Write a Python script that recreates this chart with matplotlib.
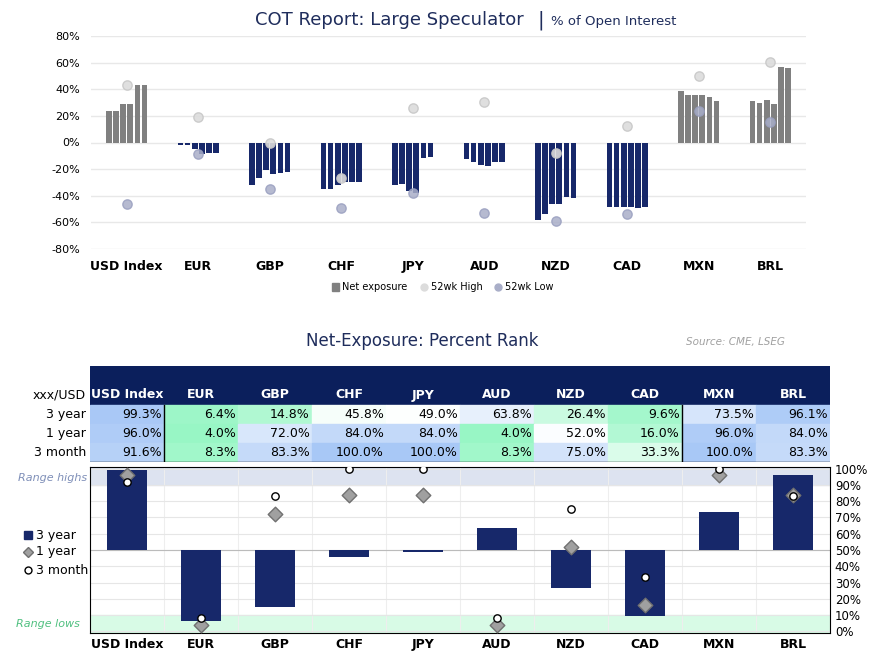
import numpy as np
import matplotlib.pyplot as plt
from matplotlib.colors import LinearSegmentedColormap

ccys = ['USD Index', 'EUR', 'GBP', 'CHF', 'JPY', 'AUD', 'NZD', 'CAD', 'MXN', 'BRL']
# net exposure, last 6 observations (% of OI)
net = [
    [24, 24, 29, 29, 43, 43],
    [-2, -2, -5, -9, -8, -8],
    [-32, -27, -21, -24, -23, -22],
    [-35, -35, -32, -30, -30, -29.5],
    [-32, -31, -36.5, -38, -11.5, -11],
    [-12.5, -15, -17, -18, -14.5, -15],
    [-58, -54, -46, -46, -41, -41.5],
    [-48.5, -48.5, -48.5, -48.5, -49, -48.5],
    [38.5, 36, 35.5, 35.5, 34, 31.5],
    [31, 30, 32, 29, 57, 56],
]
high52 = [43.5, 19, 0, -27, 26, 30.5, -8, 12.5, 50, 60.5]
low52 = [-46, -9, -35, -49.5, -38, -53, -59, -54, 24, 15.5]

rank3y = [99.3, 6.4, 14.8, 45.8, 49.0, 63.8, 26.4, 9.6, 73.5, 96.1]
rank1y = [96.0, 4.0, 72.0, 84.0, 84.0, 4.0, 52.0, 16.0, 96.0, 84.0]
rank3m = [91.6, 8.3, 83.3, 100.0, 100.0, 8.3, 75.0, 33.3, 100.0, 83.3]
row_names = ['3 year', '1 year', '3 month']

navy = '#17286a'
grey = '#808080'
W, H = 882, 669
fig = plt.figure(figsize=(W / 100, H / 100), dpi=100)
plt.rcParams['font.family'] = 'DejaVu Sans'

def box(l, t, r, b):
    return [l / W, 1 - b / H, (r - l) / W, (b - t) / H]

# ---------- top chart ----------
ax = fig.add_axes(box(91, 36, 806, 249))
x = np.arange(len(ccys))
for i in range(len(ccys)):
    for j, v in enumerate(net[i]):
        ax.bar(i - 0.25 + j * 0.1, v, width=0.08, color=navy if v < 0 else grey, zorder=3)
ax.scatter(x, high52, s=45, color='#dcdcdc', edgecolor='#c8c8c8', zorder=4, alpha=0.9)
ax.scatter(x, low52, s=45, color='#a9aec8', edgecolor='#9aa0c0', zorder=4, alpha=0.85)
ax.set_xlim(-0.5, 9.5)
ax.set_ylim(-80, 80)
ax.set_yticks(range(-80, 81, 20))
ax.set_yticklabels([f'{t}%' for t in range(-80, 81, 20)], fontsize=8)
ax.set_xticks(x)
ax.set_xticklabels(ccys, fontsize=9, fontweight='bold')
ax.tick_params(length=0, pad=8)
ax.grid(axis='y', color='#e8e8e8', lw=1, zorder=0)
for s in ax.spines.values():
    s.set_visible(False)
fig.text(255 / W, 1 - 20 / H, 'COT Report: Large Speculator', fontsize=13, color='#1f2d5c', va='center')
fig.text(538 / W, 1 - 20 / H, '|', fontsize=14, color='#1f2d5c', va='center')
fig.text(551 / W, 1 - 21 / H, '% of Open Interest', fontsize=9.5, color='#1f2d5c', va='center')
# legend
ly = 1 - 287 / H
fig.patches.append(plt.Rectangle((332 / W, ly - 0.006), 7 / W, 0.012, color=grey, transform=fig.transFigure))
fig.text(342 / W, ly, 'Net exposure', fontsize=7, va='center')
fig.add_artist(plt.Line2D([424 / W], [ly], marker='o', ms=5, color='#dcdcdc', transform=fig.transFigure))
fig.text(431 / W, ly, '52wk High', fontsize=7, va='center')
fig.add_artist(plt.Line2D([498 / W], [ly], marker='o', ms=5, color='#a9aec8', transform=fig.transFigure))
fig.text(505 / W, ly, '52wk Low', fontsize=7, va='center')

# ---------- table ----------
fig.text(422 / W, 1 - 341 / H, 'Net-Exposure: Percent Rank', fontsize=12, color='#1f2d5c', ha='center', va='center')
fig.text(686 / W, 1 - 342 / H, 'Source: CME, LSEG', fontsize=7.5, color='#a0a0a0', style='italic', va='center')
cmap = LinearSegmentedColormap.from_list('rk', ['#8ff5c0', '#ffffff', '#a8c8f6'])
tx = fig.add_axes(box(90, 366, 830, 462))
tx.set_xlim(-0.5, 9.5)
tx.set_ylim(462, 366)
tx.axis('off')
tx.add_patch(plt.Rectangle((-0.5, 366), 10, 39, color='#0b1f5c'))
for i, c in enumerate(ccys):
    tx.text(i, 395, c, color='white', fontsize=9, fontweight='bold', ha='center', va='center')
fig.text(86 / W, 1 - 395 / H, 'xxx/USD', fontsize=9, ha='right', va='center')
for r, vals in enumerate([rank3y, rank1y, rank3m]):
    y0 = 405 + r * 19
    fig.text(86 / W, 1 - (y0 + 9.5) / H, row_names[r], fontsize=9, ha='right', va='center')
    for i, v in enumerate(vals):
        tx.add_patch(plt.Rectangle((i - 0.5, y0), 1, 19, color=cmap(v / 100)))
        tx.text(i + 0.47, y0 + 9.5, f'{v:.1f}%', fontsize=9, ha='right', va='center')
for xv in [0.5, 7.5]:
    tx.plot([xv, xv], [405, 462], color='black', lw=1)
tx.plot([-0.5, 9.5], [462, 462], color='black', lw=1)

# ---------- bottom chart ----------
bx = fig.add_axes(box(90, 467, 830, 633))
bx.set_xlim(-0.5, 9.5)
bx.set_ylim(-1, 101)
bx.axhspan(90, 101, color='#dde3f0', zorder=0)
bx.axhspan(-1, 10, color='#d8fbe6', zorder=0)
bx.bar(x, np.array(rank3y) - 50, bottom=50, width=0.55, color=navy, zorder=3)
bx.scatter(x, rank1y, marker='D', s=55, color='#a0a0a0', edgecolor='#707070', zorder=4)
bx.scatter(x, rank3m, marker='o', s=28, color='white', edgecolor='black', zorder=5)
bx.set_yticks(range(0, 101, 10))
bx.set_yticklabels([f'{t}%' for t in range(0, 101, 10)], fontsize=8.5)
bx.yaxis.tick_right()
bx.set_xticks(x)
bx.set_xticklabels(ccys, fontsize=9, fontweight='bold')
bx.tick_params(length=0)
bx.set_xticks(np.arange(-0.5, 10, 1), minor=True)
bx.tick_params(which='minor', length=0)
bx.grid(axis='y', color='#e6e6e6', lw=0.8, zorder=1)
bx.grid(axis='x', which='minor', color='#eeeeee', lw=0.8, zorder=1)
bx.grid(axis='x', which='major', visible=False)
bx.axhline(50, color='#bbbbbb', lw=0.8, zorder=2)
for s in bx.spines.values():
    s.set_color('black')
    s.set_linewidth(0.8)
fig.text(18 / W, 1 - 478 / H, 'Range highs', fontsize=8, color='#7f8fb8', style='italic', va='center')
fig.text(16 / W, 1 - 624 / H, 'Range lows', fontsize=8, color='#50c080', style='italic', va='center')
fig.add_artist(plt.Line2D([28 / W], [1 - 535 / H], marker='s', ms=6, color=navy, transform=fig.transFigure))
fig.text(36 / W, 1 - 535 / H, '3 year', fontsize=9, va='center')
fig.add_artist(plt.Line2D([28 / W], [1 - 552 / H], marker='D', ms=5, color='#a0a0a0', mec='#707070', transform=fig.transFigure))
fig.text(36 / W, 1 - 552 / H, '1 year', fontsize=9, va='center')
fig.add_artist(plt.Line2D([28 / W], [1 - 570 / H], marker='o', ms=5, mfc='white', mec='black', transform=fig.transFigure))
fig.text(36 / W, 1 - 570 / H, '3 month', fontsize=9, va='center')

fig.savefig('out.png', dpi=100)
